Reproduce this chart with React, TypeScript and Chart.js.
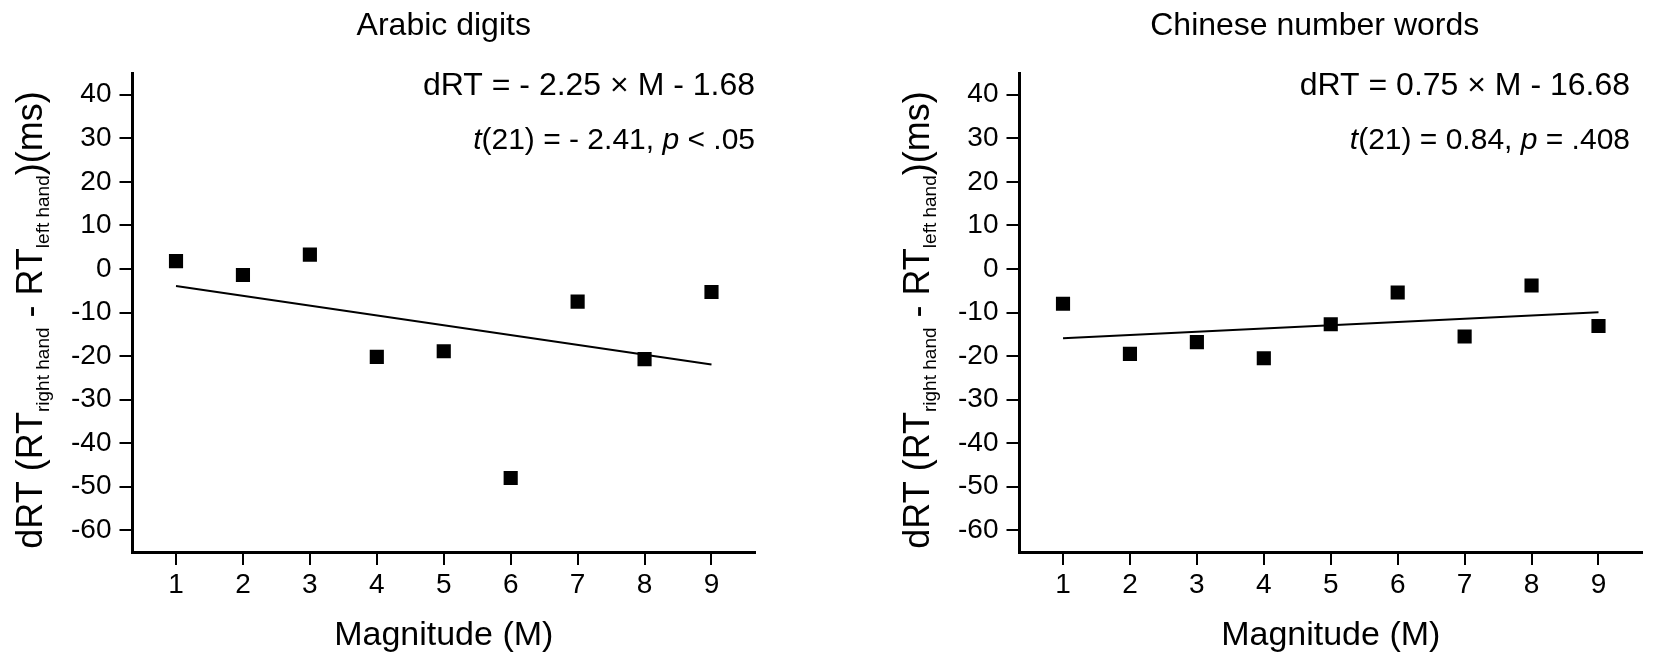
import Chart from 'chart.js/auto';
import { useEffect, useRef } from 'react';

const magnitudes = [1, 2, 3, 4, 5, 6, 7, 8, 9];
const arabicDrt = [1.8, -1.4, 3.3, -20.2, -18.9, -48.0, -7.5, -20.7, -5.3];
const chineseDrt = [-8.0, -19.5, -16.8, -20.5, -12.7, -5.4, -15.5, -3.8, -13.1];
const fitEnds = [1, 9];
const arabicFit = [-3.93, -21.93];
const chineseFit = [-15.93, -9.93];
const xTicks = [1, 2, 3, 4, 5, 6, 7, 8, 9];
const yTicks = [-60, -50, -40, -30, -20, -10, 0, 10, 20, 30, 40];

const FONT = '"Liberation Sans", Arial, sans-serif';
const W = 767;
const H = 661;

type Piece = { text: string; size: number; italic?: boolean; shift?: number };

function drawPieces(
  ctx: CanvasRenderingContext2D,
  pieces: Piece[],
  x: number,
  y: number,
  align: 'left' | 'right' | 'center'
) {
  const fontOf = (p: Piece) => `${p.italic ? 'italic ' : ''}${p.size}px ${FONT}`;
  const widths = pieces.map((p) => {
    ctx.font = fontOf(p);
    return ctx.measureText(p.text).width;
  });
  const total = widths.reduce((a, b) => a + b, 0);
  let cx = align === 'right' ? x - total : align === 'center' ? x - total / 2 : x;
  ctx.textAlign = 'left';
  ctx.textBaseline = 'alphabetic';
  pieces.forEach((p, i) => {
    ctx.font = fontOf(p);
    ctx.fillText(p.text, cx, y + (p.shift || 0));
    cx += widths[i];
  });
}

const yTitle: Piece[] = [
  { text: 'dRT (RT', size: 36 },
  { text: 'right hand', size: 19, shift: 7 },
  { text: ' - RT', size: 36 },
  { text: 'left hand', size: 19, shift: 7 },
  { text: ')(ms)', size: 36 },
];

interface PanelProps {
  title: string;
  equation: string;
  stats: Piece[];
  values: number[];
  fit: number[];
  textDx: number;
  titleDx: number;
}

function Panel({ title, equation, stats, values, fit, textDx, titleDx }: PanelProps) {
  const canvasRef = useRef<HTMLCanvasElement>(null);

  useEffect(() => {
    if (!canvasRef.current) return;

    const labels = {
      id: 'panelText',
      afterDraw(chart: Chart) {
        const { ctx, chartArea } = chart;
        const mid = (chartArea.left + chartArea.right) / 2;
        ctx.save();
        ctx.fillStyle = '#000';
        drawPieces(ctx, [{ text: title, size: 32 }], mid + titleDx, 35, 'center');
        drawPieces(ctx, [{ text: equation, size: 32 }], chartArea.right + textDx, 95, 'right');
        drawPieces(ctx, stats, chartArea.right + textDx, 149, 'right');
        drawPieces(ctx, [{ text: 'Magnitude (M)', size: 34 }], mid, 645, 'center');
        ctx.translate(42, 320);
        ctx.rotate(-Math.PI / 2);
        drawPieces(ctx, yTitle, 0, 0, 'center');
        ctx.restore();
      },
    };

    const axisCommon = {
      type: 'linear' as const,
      grid: {
        display: true,
        drawOnChartArea: false,
        drawTicks: true,
        tickLength: 13,
        color: '#000',
        lineWidth: 2,
      },
      border: { display: true, color: '#000', width: 3 },
    };

    const chart = new Chart(canvasRef.current, {
      type: 'scatter',
      data: {
        datasets: [
          {
            data: magnitudes.map((m, i) => ({ x: m, y: values[i] })),
            pointStyle: 'rect',
            pointRadius: 10,
            pointHoverRadius: 10,
            backgroundColor: '#000',
            borderWidth: 0,
            showLine: false,
          },
          {
            type: 'line',
            data: fitEnds.map((m, i) => ({ x: m, y: fit[i] })),
            borderColor: '#000',
            borderWidth: 2,
            pointRadius: 0,
            fill: false,
          },
        ],
      },
      options: {
        responsive: false,
        animation: false,
        layout: { padding: { top: 73, right: 12, bottom: 0, left: 0 } },
        plugins: {
          legend: { display: false },
          tooltip: { enabled: false },
        },
        scales: {
          x: {
            ...axisCommon,
            min: 0.35,
            max: 9.65,
            afterBuildTicks: (s: any) => {
              s.ticks = xTicks.map((v) => ({ value: v }));
            },
            afterFit: (s: any) => {
              s.height = 109;
            },
            ticks: {
              color: '#000',
              font: { family: FONT, size: 28 },
              padding: 3,
              maxRotation: 0,
              autoSkip: false,
            },
          },
          y: {
            ...axisCommon,
            min: -65,
            max: 45,
            afterBuildTicks: (s: any) => {
              s.ticks = yTicks.map((v) => ({ value: v }));
            },
            afterFit: (s: any) => {
              s.width = 132.5;
            },
            ticks: {
              color: '#000',
              font: { family: FONT, size: 28 },
              padding: 8,
              autoSkip: false,
            },
          },
        },
      },
      plugins: [labels],
    });

    return () => chart.destroy();
  }, []);

  return <canvas ref={canvasRef} width={W} height={H} style={{ display: 'block' }}></canvas>;
}

export default function App() {
  return (
    <div style={{ position: 'fixed', left: 0, top: 0, width: 1654, height: 661, background: '#fff' }}>
      <div style={{ position: 'absolute', left: 0, top: 0 }}>
        <Panel
          title="Arabic digits"
          equation="dRT = - 2.25 × M - 1.68"
          stats={[
            { text: 't', size: 30, italic: true },
            { text: '(21) = - 2.41, ', size: 30 },
            { text: 'p', size: 30, italic: true },
            { text: ' < .05', size: 30 },
          ]}
          values={arabicDrt}
          fit={arabicFit}
          textDx={0}
          titleDx={0}
        />
      </div>
      <div style={{ position: 'absolute', left: 887, top: 0 }}>
        <Panel
          title="Chinese number words"
          equation="dRT = 0.75 × M - 16.68"
          stats={[
            { text: 't', size: 30, italic: true },
            { text: '(21) = 0.84, ', size: 30 },
            { text: 'p', size: 30, italic: true },
            { text: ' = .408', size: 30 },
          ]}
          values={chineseDrt}
          fit={chineseFit}
          textDx={-12}
          titleDx={-16}
        />
      </div>
    </div>
  );
}
